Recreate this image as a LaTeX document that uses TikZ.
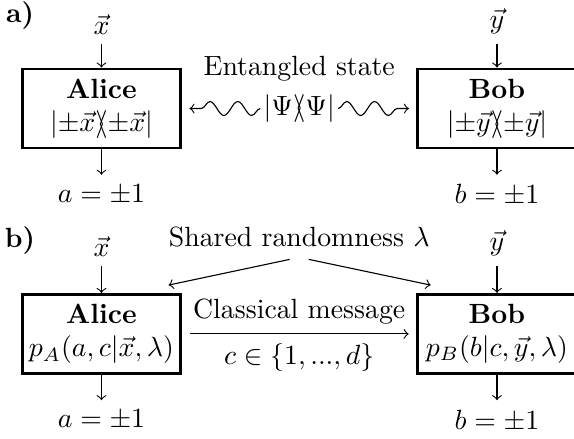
\documentclass[tikz,border=0pt]{standalone}
\usepackage{amssymb}
\usepackage{amsmath}
\usepackage{tikz}
\usetikzlibrary{arrows}
\usetikzlibrary{positioning}
\usetikzlibrary{decorations.pathmorphing}
\newcommand{\ketbra}[2]{|#1\rangle\!\!\langle#2|}

\begin{document}
\begin{tikzpicture}
\tikzstyle{party}=[draw, line width=1pt, minimum width=2cm, minimum height=1cm, inner sep=1pt, align=center]
\tikzstyle{wave}=[->, decorate, decoration={snake, amplitude=2.5pt, segment length=10pt, post length=2pt}, shorten >=2.7pt]
\useasboundingbox (-1.283,-4.178) rectangle (5.974,1.372);
% a) quantum
\node (la) at (-1.03,1.17) {\textbf{a)}};
\node[party] (alice) at (0,0) {\textbf{Alice}\\ $\ketbra{{\pm}\vec{x}}{{\pm}\vec{x}}$};
\node[party] (bob) at (5,0) {\textbf{Bob}\\ $\ketbra{{\pm}\vec{y}}{{\pm}\vec{y}}$};
\node[above=0.3cm of alice] (x) {$\vec{x}$};
\node[above=0.3cm of bob] (y) {$\vec{y}$};
\node[below=0.32cm of alice] (a) {$a=\pm1$};
\node[below=0.32cm of bob] (b) {$b=\pm1$};
\node[inner sep=1pt] (psi) at (2.5,0) {$\ketbra{\Psi}{\Psi}$};
\node[above=0pt of psi] (ent) {Entangled state};
\draw[->] (x) -- (alice);
\draw[->] (y) -- (bob);
\draw[->] (alice) -- (a);
\draw[->] (bob) -- (b);
\draw[wave] (psi) -- (alice);
\draw[wave] (psi) -- (bob);
% b) classical
\node (lb) at (-1.03,-1.675) {\textbf{b)}};
\node[party] (alice2) at (0,-2.85) {\textbf{Alice}\\ $p_A(a,c|\vec{x},\lambda)$};
\node[party] (bob2) at (5,-2.85) {\textbf{Bob}\\ $p_B(b|c,\vec{y},\lambda)$};
\node[above=0.34cm of alice2] (x2) {$\vec{x}$};
\node[above=0.34cm of bob2] (y2) {$\vec{y}$};
\node[below=0.32cm of alice2] (a2) {$a=\pm1$};
\node[below=0.32cm of bob2] (b2) {$b=\pm1$};
\node[anchor=base] (shared) at (2.5,-1.75) {Shared randomness $\lambda$};
\coordinate (sa) at ([xshift=-0.17cm,yshift=0.1cm]alice2.north east);
\coordinate (sb) at ([xshift=0.18cm,yshift=0.1cm]bob2.north west);
\draw[->] (x2) -- (alice2);
\draw[->] (y2) -- (bob2);
\draw[->] (alice2) -- (a2);
\draw[->] (bob2) -- (b2);
\draw[->, shorten <=3.5pt] (shared.south) -- (sa);
\draw[->, shorten <=3.5pt] (shared.south) -- (sb);
\draw[->, shorten <=2.8pt, shorten >=2.8pt] (alice2) -- node[above] {Classical message} node[below] {$c\in\{1,...,d\}$} (bob2);
\end{tikzpicture}
\end{document}
